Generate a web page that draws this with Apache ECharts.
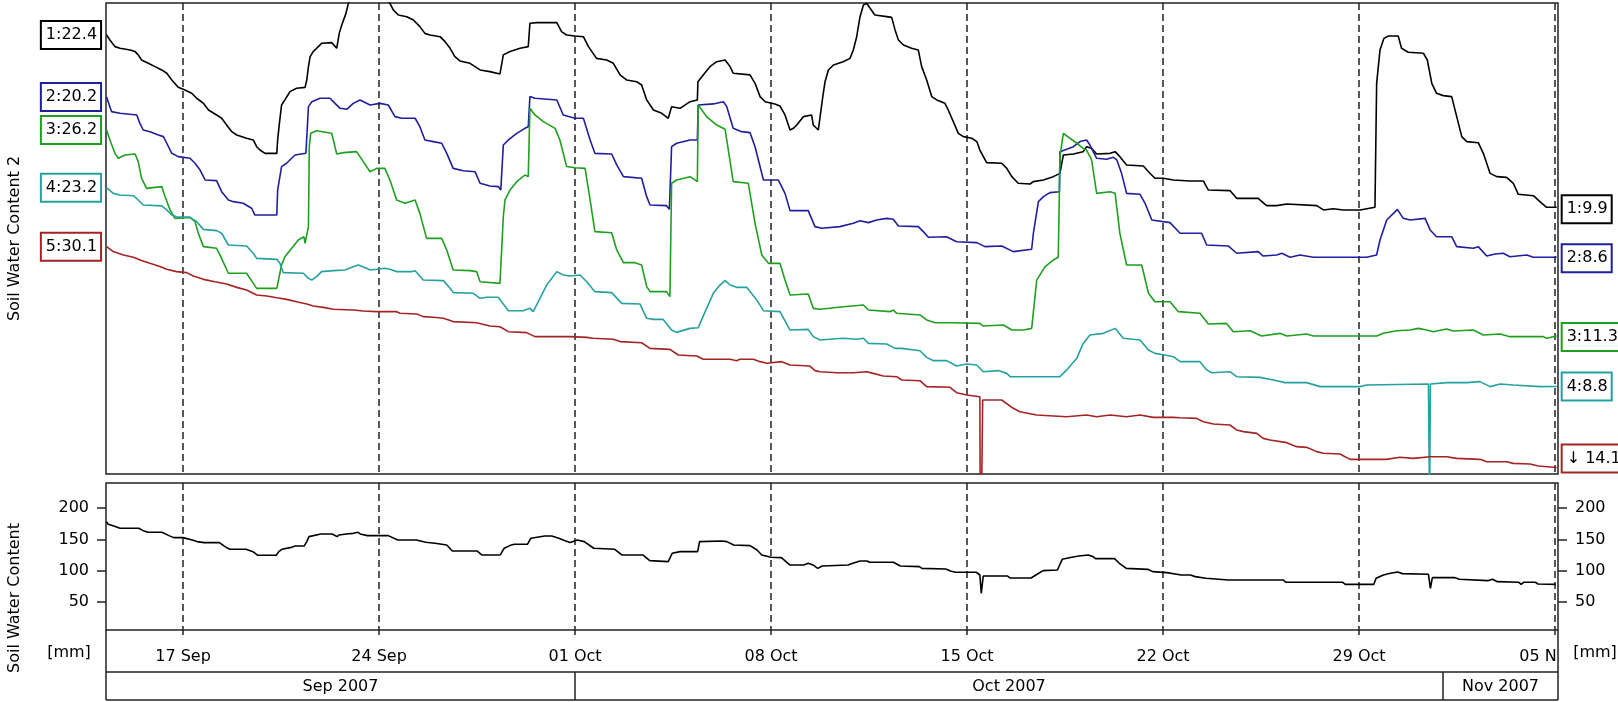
<!DOCTYPE html>
<html><head><meta charset="utf-8">
<script src="https://cdn.jsdelivr.net/npm/echarts@6/dist/echarts.min.js"></script>
<style>html,body{margin:0;padding:0;background:#fff}#c{width:1618px;height:702px}</style>
</head><body><div id="c"></div>
<script>
// ---- time base (days after 14 Sep 2007 00:00 UTC) ----
const DAY = 86400000;
const START = Date.UTC(2007, 8, 14);
const X_MIN_DAY = 0.25, X_MAX_DAY = 52.107;
const tickDays = [3, 10, 17, 24, 31, 38, 45, 52];
const tickLabels = ['17 Sep', '24 Sep', '01 Oct', '08 Oct', '15 Oct', '22 Oct', '29 Oct', '05 N'];
const monthLabels = ['Sep 2007', 'Oct 2007', 'Nov 2007'];
const monthStartDays = [-13, 17, 48, 78];
const lowerTicks = [50, 100, 150, 200];
const unitLabel = '[mm]';
const upperTitle = 'Soil Water Content 2';
const lowerTitle = 'Soil Water Content';

// ---- sensor series: [day, value] ----
const sensor1 = [[0.27,22.40],[0.39,22.04],[0.57,21.56],[0.75,21.44],[1.11,21.32],[1.29,21.20],[1.40,20.96],[1.52,20.59],[1.76,20.35],[2.00,20.11],[2.24,19.87],[2.42,19.63],[2.60,19.14],[2.83,18.61],[3.07,18.42],[3.31,18.18],[3.49,17.82],[3.73,17.45],[3.91,16.97],[4.20,16.61],[4.38,16.37],[4.56,15.88],[4.74,15.40],[4.92,15.16],[5.27,14.92],[5.51,14.80],[5.63,14.31],[5.75,14.07],[5.93,13.83],[6.35,13.83],[6.38,14.80],[6.43,15.76],[6.52,17.33],[6.64,17.70],[6.82,18.30],[7.06,18.54],[7.36,18.61],[7.42,19.14],[7.48,20.11],[7.54,20.83],[7.65,21.20],[7.95,21.80],[8.31,21.85],[8.49,21.44],[8.58,22.52],[8.67,23.13],[8.82,23.97],[8.90,24.65],[9.08,25.66],[9.56,25.90],[10.15,25.42],[10.39,24.70],[10.51,24.22],[10.69,23.85],[10.99,23.73],[11.23,23.49],[11.46,23.01],[11.64,22.52],[11.82,22.40],[12.18,22.28],[12.36,21.92],[12.54,21.44],[12.71,20.83],[12.89,20.52],[13.25,20.35],[13.61,19.87],[13.96,19.75],[14.32,19.58],[14.44,20.96],[14.68,21.20],[15.04,21.44],[15.33,21.56],[15.39,23.25],[15.63,23.30],[16.35,23.30],[16.52,22.65],[16.70,22.40],[17.00,22.33],[17.30,22.28],[17.48,21.56],[17.77,20.71],[18.13,20.59],[18.37,20.35],[18.61,19.51],[18.85,19.14],[19.20,19.02],[19.38,18.78],[19.56,17.70],[19.80,16.97],[20.10,16.73],[20.33,16.37],[20.45,17.21],[20.75,17.09],[21.11,17.57],[21.37,17.70],[21.39,19.02],[21.58,19.51],[21.82,20.11],[22.06,20.47],[22.36,20.59],[22.54,20.11],[22.65,19.63],[23.25,19.51],[23.43,18.90],[23.61,17.94],[23.79,17.57],[24.14,17.41],[24.32,17.26],[24.50,16.61],[24.68,15.52],[24.80,15.64],[24.92,15.88],[25.16,16.49],[25.45,16.61],[25.51,15.88],[25.69,15.52],[25.85,17.94],[25.93,19.02],[26.05,19.87],[26.23,20.23],[26.58,20.47],[26.82,20.71],[26.94,21.32],[27.06,22.28],[27.18,23.73],[27.30,24.58],[27.42,24.70],[27.54,24.34],[27.71,23.85],[28.13,23.73],[28.31,23.68],[28.43,22.77],[28.55,22.04],[28.73,21.68],[29.02,21.44],[29.26,21.32],[29.38,20.11],[29.56,19.14],[29.74,17.94],[29.92,17.70],[30.21,17.45],[30.33,16.97],[30.51,16.13],[30.69,15.28],[30.87,15.04],[31.17,14.92],[31.35,14.68],[31.46,14.07],[31.70,13.16],[32.24,13.11],[32.42,12.74],[32.60,12.14],[32.83,11.66],[33.25,11.61],[33.37,11.78],[33.73,11.90],[34.08,12.14],[34.32,12.38],[34.44,13.71],[34.80,13.78],[35.15,13.95],[35.27,14.31],[35.45,14.19],[35.63,13.78],[36.11,13.83],[36.29,13.95],[36.46,13.59],[36.70,12.99],[37.30,12.91],[37.48,12.50],[37.71,12.02],[38.01,12.02],[38.37,11.90],[38.96,11.83],[39.44,11.83],[39.62,11.17],[40.39,11.13],[40.63,10.57],[41.40,10.57],[41.70,10.04],[42.06,10.04],[42.42,10.16],[43.49,10.04],[43.73,9.73],[44.08,9.82],[44.44,9.73],[45.04,9.73],[45.57,9.92],[45.63,18.90],[45.75,21.32],[45.89,22.16],[46.05,22.33],[46.40,22.33],[46.52,21.44],[46.76,21.15],[47.30,21.08],[47.44,20.59],[47.60,18.90],[47.77,18.18],[48.01,18.01],[48.31,17.94],[48.49,16.49],[48.67,15.04],[48.85,14.68],[49.26,14.60],[49.44,13.83],[49.68,12.38],[49.92,12.14],[50.27,12.09],[50.51,11.66],[50.69,10.86],[51.23,10.76],[51.46,10.33],[51.70,9.92],[52.06,9.92]];
const sensor2 = [[0.27,20.20],[0.45,19.14],[0.75,19.02],[1.35,18.90],[1.46,18.29],[1.58,17.81],[1.82,17.69],[2.12,17.45],[2.30,17.33],[2.42,16.85],[2.60,16.12],[2.83,15.88],[3.25,15.76],[3.43,15.40],[3.61,14.91],[3.79,14.19],[4.20,14.14],[4.38,13.34],[4.62,12.74],[4.80,12.62],[5.15,12.50],[5.45,12.14],[5.57,11.65],[6.35,11.65],[6.38,13.46],[6.52,15.16],[6.70,15.40],[7.00,16.00],[7.39,16.12],[7.48,19.50],[7.60,19.86],[7.89,20.11],[8.25,20.11],[8.43,19.74],[8.61,19.38],[8.85,19.31],[9.08,19.74],[9.32,19.98],[9.68,19.62],[10.04,19.74],[10.33,19.62],[10.57,18.78],[10.81,18.66],[11.29,18.66],[11.46,18.05],[11.64,17.09],[11.94,16.97],[12.24,16.85],[12.42,16.12],[12.65,15.03],[13.01,14.86],[13.43,14.79],[13.61,13.95],[13.96,13.75],[14.26,13.71],[14.35,13.46],[14.44,16.72],[14.62,17.09],[14.92,17.57],[15.21,17.93],[15.33,18.05],[15.39,20.23],[15.57,20.11],[16.35,19.98],[16.58,18.90],[17.00,18.66],[17.30,18.66],[17.54,17.09],[17.71,16.12],[18.31,16.07],[18.49,15.28],[18.73,14.43],[19.38,14.31],[19.56,12.98],[19.68,12.38],[20.27,12.33],[20.37,12.06],[20.45,16.60],[20.63,16.85],[21.11,17.09],[21.37,17.09],[21.40,19.62],[21.94,19.70],[22.30,19.86],[22.42,19.50],[22.65,17.93],[22.95,17.69],[23.25,17.62],[23.43,16.60],[23.73,14.19],[24.26,14.19],[24.50,13.22],[24.68,11.97],[25.33,11.97],[25.57,10.81],[25.81,10.69],[26.46,10.81],[26.94,11.05],[27.18,11.24],[27.48,11.10],[27.77,11.29],[28.13,11.41],[28.37,11.34],[28.55,10.86],[29.26,10.81],[29.44,10.45],[29.62,10.04],[30.27,10.08],[30.63,9.72],[31.35,9.65],[31.64,9.36],[32.24,9.41],[32.65,9.00],[33.31,9.17],[33.37,10.33],[33.55,12.62],[33.73,12.98],[33.96,13.27],[34.30,13.34],[34.32,16.24],[34.80,16.60],[35.04,16.97],[35.27,17.09],[35.39,16.72],[35.63,15.76],[35.99,15.69],[36.23,15.83],[36.35,15.64],[36.52,14.67],[36.70,13.22],[37.18,13.15],[37.36,12.50],[37.60,11.29],[38.25,11.10],[38.61,10.33],[39.38,10.33],[39.56,9.48],[40.33,9.41],[40.63,8.88],[41.40,9.00],[41.58,8.68],[42.06,8.76],[42.24,8.88],[42.54,8.59],[42.89,8.76],[43.37,8.59],[45.27,8.59],[45.63,8.76],[45.75,9.84],[45.99,11.29],[46.23,11.77],[46.37,12.06],[46.58,11.41],[46.82,11.29],[47.36,11.41],[47.54,10.57],[47.77,10.08],[48.31,10.08],[48.49,9.36],[49.08,9.24],[49.26,9.36],[49.56,8.68],[49.86,8.83],[50.15,8.88],[50.39,8.63],[50.99,8.76],[51.23,8.59],[52.06,8.59]];
const sensor3 = [[0.27,26.20],[0.39,25.48],[0.57,24.51],[0.69,24.15],[0.93,24.39],[1.29,24.46],[1.40,23.91],[1.52,22.70],[1.70,21.97],[2.24,22.10],[2.36,21.37],[2.54,20.41],[2.71,19.80],[3.25,19.87],[3.43,19.56],[3.55,18.71],[3.73,17.75],[4.20,17.63],[4.32,17.15],[4.62,15.82],[5.27,15.82],[5.63,14.73],[6.35,14.73],[6.52,16.42],[6.64,17.02],[6.88,17.63],[7.12,18.23],[7.32,18.47],[7.36,17.99],[7.48,19.20],[7.51,24.99],[7.56,25.96],[7.77,26.15],[8.31,25.96],[8.49,24.46],[8.73,24.56],[9.20,24.63],[9.44,23.91],[9.68,23.18],[9.92,23.42],[10.21,23.42],[10.39,22.58],[10.63,21.13],[10.93,20.89],[11.29,21.13],[11.46,20.16],[11.70,18.35],[12.24,18.35],[12.42,17.51],[12.65,16.06],[13.25,16.01],[13.49,15.94],[13.61,15.21],[14.32,15.09],[14.44,19.92],[14.50,21.13],[14.68,21.85],[14.92,22.46],[15.21,22.94],[15.33,22.82],[15.39,27.77],[15.57,27.29],[15.87,26.81],[16.29,26.32],[16.46,25.48],[16.70,23.55],[17.00,23.47],[17.36,23.42],[17.54,21.13],[17.71,18.84],[18.31,18.76],[18.49,17.51],[18.73,16.59],[19.14,16.59],[19.38,16.42],[19.56,14.85],[19.68,14.49],[20.27,14.49],[20.39,14.13],[20.45,22.34],[20.63,22.58],[21.11,22.82],[21.37,22.46],[21.40,28.01],[21.70,27.17],[22.06,26.56],[22.36,26.25],[22.42,25.48],[22.65,22.46],[23.19,22.34],[23.43,19.44],[23.67,17.15],[23.91,16.54],[24.32,16.54],[24.50,15.33],[24.68,14.25],[25.33,14.32],[25.51,13.28],[25.75,13.21],[26.58,13.40],[27.30,13.52],[27.48,13.16],[28.25,13.04],[28.37,13.16],[28.49,12.92],[29.32,12.80],[29.56,12.44],[29.86,12.24],[30.45,12.24],[31.46,12.19],[31.58,12.00],[32.30,12.07],[32.60,11.71],[33.01,11.71],[33.31,11.83],[33.49,15.33],[33.79,16.30],[34.08,16.78],[34.26,16.98],[34.32,24.27],[34.44,25.96],[34.92,25.24],[35.15,24.87],[35.27,24.75],[35.45,24.03],[35.63,21.61],[36.11,21.73],[36.29,21.61],[36.46,18.71],[36.70,16.42],[37.24,16.42],[37.48,14.37],[37.71,13.76],[38.25,13.76],[38.55,13.04],[39.32,12.92],[39.62,12.15],[40.27,12.19],[40.51,11.59],[41.11,11.66],[41.52,11.28],[42.18,11.47],[42.42,11.28],[43.13,11.42],[43.37,11.28],[45.63,11.28],[45.87,11.47],[46.35,11.66],[46.82,11.71],[47.12,11.83],[47.42,11.71],[47.65,11.59],[48.13,11.78],[48.37,11.64],[49.08,11.71],[49.44,11.35],[50.04,11.42],[50.39,11.23],[51.58,11.23],[51.70,11.11],[52.06,11.28]];
const sensor4 = [[0.27,23.20],[0.51,22.79],[0.75,22.67],[1.23,22.62],[1.40,22.31],[1.58,21.95],[2.24,21.88],[2.42,21.59],[2.60,21.22],[2.77,21.10],[3.25,21.05],[3.49,20.74],[3.73,20.18],[4.20,20.09],[4.38,19.90],[4.62,19.05],[5.27,18.98],[5.51,18.45],[5.63,18.08],[6.35,18.01],[6.46,17.72],[6.58,17.05],[7.30,17.00],[7.48,16.63],[7.60,16.51],[7.77,16.76],[7.95,17.12],[8.37,17.19],[8.79,17.24],[9.08,17.48],[9.26,17.60],[9.56,17.36],[9.68,17.24],[9.92,17.29],[10.21,17.36],[10.39,17.29],[10.63,17.12],[11.17,17.12],[11.29,17.19],[11.58,16.51],[12.30,16.47],[12.54,15.91],[12.65,15.60],[13.37,15.55],[13.61,15.19],[13.85,15.26],[14.26,15.26],[14.38,14.94],[14.62,14.29],[15.15,14.29],[15.39,14.46],[15.51,14.22],[15.81,15.43],[15.99,16.15],[16.35,17.12],[16.58,16.88],[16.82,16.80],[17.18,16.88],[17.42,16.39],[17.71,15.67],[18.31,15.60],[18.67,14.82],[19.32,14.78],[19.56,13.74],[19.80,13.66],[20.15,13.66],[20.45,12.89],[20.63,12.72],[21.11,13.01],[21.40,13.06],[21.70,14.46],[21.94,15.55],[22.12,16.03],[22.36,16.47],[22.54,16.15],[22.77,15.98],[23.13,15.98],[23.49,15.07],[23.73,14.29],[24.32,14.22],[24.68,12.89],[25.33,12.94],[25.51,12.41],[25.75,12.17],[26.58,12.29],[27.06,12.22],[27.30,12.29],[27.48,11.92],[28.13,11.88],[28.43,11.56],[28.67,11.56],[29.32,11.39],[29.56,10.91],[29.80,10.67],[30.27,10.67],[30.63,10.28],[30.99,10.43],[31.35,10.36],[31.58,9.87],[32.12,9.95],[32.42,9.75],[32.54,9.51],[34.32,9.51],[34.56,10.00],[34.92,10.84],[35.15,11.92],[35.39,12.53],[35.87,12.65],[36.29,13.01],[36.58,12.29],[37.18,12.17],[37.48,11.44],[37.71,11.20],[38.07,11.08],[38.37,10.96],[38.61,10.60],[39.32,10.60],[39.56,10.00],[39.74,9.80],[40.39,9.87],[40.63,9.51],[41.46,9.46],[41.94,9.27],[42.36,9.08],[43.13,9.08],[43.61,8.79],[45.04,8.79],[45.27,8.91],[47.48,8.98],[47.52,0.00],[47.55,8.98],[48.13,9.08],[48.85,9.08],[49.32,9.15],[49.68,8.79],[50.04,8.98],[50.51,8.91],[51.46,8.79],[52.06,8.80]];
const sensor5 = [[0.27,30.10],[0.51,29.74],[0.87,29.50],[1.23,29.33],[1.52,29.09],[1.82,28.89],[2.12,28.70],[2.42,28.46],[2.77,28.29],[3.13,28.22],[3.37,27.97],[3.73,27.73],[4.14,27.56],[4.56,27.39],[4.92,27.15],[5.27,26.96],[5.63,26.60],[5.99,26.53],[6.35,26.40],[6.70,26.28],[7.06,26.11],[7.42,25.95],[7.65,25.80],[8.01,25.70],[8.37,25.56],[9.08,25.51],[9.44,25.44],[9.92,25.39],[10.63,25.39],[10.75,25.27],[11.35,25.22],[11.58,25.03],[11.94,24.98],[12.30,24.91],[12.65,24.67],[13.49,24.59],[13.96,24.35],[14.32,24.30],[14.62,23.94],[15.27,23.87],[15.57,23.58],[16.82,23.58],[17.42,23.53],[17.65,23.46],[18.37,23.39],[18.61,23.22],[19.38,23.14],[19.68,22.73],[20.39,22.66],[20.69,22.25],[21.35,22.18],[21.58,21.94],[22.54,21.94],[22.77,21.84],[22.89,21.94],[23.37,21.94],[23.61,21.77],[23.85,21.65],[24.38,21.77],[24.68,21.53],[25.39,21.45],[25.57,21.12],[25.75,21.04],[26.35,20.97],[26.94,20.97],[27.42,21.04],[27.65,20.92],[28.01,20.73],[28.49,20.68],[28.67,20.44],[29.32,20.39],[29.56,19.96],[30.39,19.91],[30.63,19.52],[30.99,19.35],[31.46,19.23],[31.48,5.00],[31.50,5.00],[31.52,5.00],[31.54,5.00],[31.56,18.99],[32.24,18.99],[32.65,18.39],[32.89,18.14],[33.49,17.90],[34.56,17.78],[35.27,17.90],[35.63,17.78],[36.11,17.90],[36.70,17.78],[37.18,17.90],[37.65,17.73],[38.37,17.73],[38.61,17.70],[39.20,17.66],[39.44,17.42],[39.80,17.25],[40.39,17.18],[40.63,16.82],[40.87,16.70],[41.35,16.57],[41.58,16.21],[41.82,16.09],[42.42,15.90],[42.77,15.61],[43.13,15.56],[43.49,15.25],[43.73,15.13],[44.32,15.08],[44.68,14.69],[45.99,14.69],[46.46,14.84],[46.94,14.76],[47.54,14.88],[48.13,14.88],[48.49,14.76],[49.32,14.69],[49.56,14.52],[50.27,14.52],[50.51,14.40],[51.11,14.35],[51.40,14.21],[52.06,14.10]];

// ---- total soil water content [mm] ----
const swcTotal = [[0.26,178.5],[0.33,174.2],[0.58,170.5],[0.75,167.8],[1.42,167.8],[1.58,164.0],[1.75,161.4],[2.25,161.4],[2.50,156.0],[2.67,152.8],[3.00,152.8],[3.33,149.0],[3.50,146.4],[3.75,144.8],[4.30,144.8],[4.50,138.3],[4.67,134.1],[5.25,134.1],[5.50,130.3],[5.67,124.4],[6.33,124.4],[6.42,130.3],[6.53,134.1],[6.83,136.7],[7.00,139.4],[7.33,139.4],[7.42,146.4],[7.50,154.4],[7.92,158.7],[8.33,158.7],[8.50,154.4],[8.58,157.1],[8.83,158.7],[9.08,159.7],[9.25,161.4],[9.33,158.7],[9.58,156.0],[10.33,156.0],[10.67,149.0],[11.33,149.0],[11.67,145.3],[12.00,143.7],[12.42,141.0],[12.62,131.4],[13.50,131.4],[13.67,125.0],[14.33,125.0],[14.47,135.7],[14.67,140.0],[14.83,142.1],[15.30,142.1],[15.42,151.7],[15.92,155.5],[16.17,155.5],[16.42,151.7],[16.67,147.4],[16.83,144.8],[17.08,149.0],[17.33,146.4],[17.67,135.7],[18.42,134.1],[18.67,125.0],[19.42,125.0],[19.67,115.9],[20.33,114.3],[20.47,127.6],[20.75,130.3],[21.38,130.3],[21.45,146.4],[22.25,147.4],[22.42,146.4],[22.67,141.0],[23.25,139.9],[23.50,133.0],[23.67,125.0],[24.00,121.2],[24.37,120.7],[24.67,108.9],[25.17,108.9],[25.33,111.6],[25.50,108.9],[25.67,103.5],[25.83,107.3],[26.75,108.9],[26.92,111.6],[27.18,115.3],[27.43,115.3],[27.52,113.2],[28.37,113.2],[28.62,107.3],[29.30,106.2],[29.39,103.5],[30.24,102.5],[30.41,99.3],[30.58,97.1],[31.34,97.1],[31.46,92.8],[31.51,63.4],[31.58,91.2],[32.44,91.2],[32.53,88.0],[33.29,88.0],[33.46,92.8],[33.72,99.8],[34.23,100.9],[34.40,118.0],[34.74,121.2],[34.99,123.3],[35.33,125.0],[35.50,122.3],[35.59,119.1],[36.27,119.1],[36.44,111.6],[36.69,103.5],[37.46,101.9],[37.63,98.2],[38.14,96.6],[38.65,92.8],[38.98,92.8],[39.15,90.2],[39.53,87.5],[40.34,84.8],[42.30,84.8],[42.38,81.1],[44.42,81.1],[44.51,77.8],[45.53,77.8],[45.61,87.5],[45.87,92.8],[46.12,95.5],[46.38,97.7],[46.55,95.0],[47.48,93.9],[47.55,71.4],[47.62,88.6],[48.41,88.6],[48.58,85.9],[49.60,83.7],[49.77,85.9],[49.94,82.1],[50.71,81.1],[50.79,77.8],[50.88,81.1],[51.30,81.1],[51.39,78.4],[52.03,77.8]];

const sensorData = [sensor1, sensor2, sensor3, sensor4, sensor5];
const sensorColors = ['#000000', '#1f1f9c', '#1f9f1f', '#27a0a0', '#a32424'];
const sensorYMin = [-9.40, -7.11, 1.28, 2.46, 13.63];
const sensorYMax = [24.72, 27.01, 35.40, 36.58, 47.75];
const endPrefix = ['', '', '', '', '\u2193 '];
const endOffsetY = [2, 1, 1, 0, -9];
const lowerYMin = 4.5, lowerYMax = 240.5;

// ---- chart ----
const FONT = 'DejaVu Sans';
const AXIS_COLOR = '#222';
const toTime = d => START + d * DAY;
const tickTimes = tickDays.map(toTime);

const chart = echarts.init(document.getElementById('c'), null, {renderer: 'canvas', width: 1618, height: 702});

function boxStyle(c) {
  return {color: '#000', fontFamily: FONT, fontSize: 16, lineHeight: 19,
    backgroundColor: '#fff', borderColor: c, borderWidth: 2, padding: [4, 3, 3, 4]};
}

function dateLabel(val) {
  const d = Math.round((val - START) / DAY);
  const k = tickDays.indexOf(d);
  if (k < 0) return '';
  if (k === tickDays.length - 1) return '{c|' + tickLabels[k] + '}';
  return tickLabels[k];
}

const xBase = {
  type: 'value', min: toTime(X_MIN_DAY), max: toTime(X_MAX_DAY),
  axisLine: {show: false},
  splitLine: {show: true, lineStyle: {color: AXIS_COLOR, width: 1.5, type: [7, 4]}}
};

const yAxes = sensorData.map((_, i) => ({
  type: 'value', gridIndex: 0, min: sensorYMin[i], max: sensorYMax[i], show: false
}));
const lowerY = pos => ({
  type: 'value', gridIndex: 1, position: pos, min: lowerYMin, max: lowerYMax,
  axisLine: {show: false}, splitLine: {show: false},
  axisTick: {show: true, length: 9, customValues: lowerTicks, lineStyle: {color: AXIS_COLOR, width: 1.5}},
  axisLabel: {customValues: lowerTicks, margin: 17, color: '#000', fontFamily: FONT, fontSize: 16}
});
yAxes.push(lowerY('left'), lowerY('right'));

const series = sensorData.map((arr, i) => {
  const c = sensorColors[i];
  const last = arr[arr.length - 1][1];
  return {
    type: 'line', name: 'Sensor ' + (i + 1), xAxisIndex: 0, yAxisIndex: i,
    symbol: 'none', showSymbol: true, clip: true, silent: true,
    lineStyle: {color: c, width: 1.6}, itemStyle: {color: c},
    emphasis: {disabled: true},
    data: arr.map((p, j) => j === 0 ? {
      value: [toTime(p[0]), p[1]], symbol: 'circle', symbolSize: 1,
      label: Object.assign({show: true, position: 'left', distance: 6,
        formatter: (i + 1) + ':' + p[1].toFixed(1)}, boxStyle(c))
    } : [toTime(p[0]), p[1]]),
    endLabel: Object.assign({show: true, distance: 6, offset: [0, endOffsetY[i]],
      formatter: () => endPrefix[i] ? endPrefix[i] + last.toFixed(1) : (i + 1) + ':' + last.toFixed(1)}, boxStyle(c))
  };
});
series.push({
  type: 'line', name: 'Soil Water Content', xAxisIndex: 1, yAxisIndex: 5,
  symbol: 'none', showSymbol: false, clip: true, silent: true,
  lineStyle: {color: '#000', width: 1.6}, emphasis: {disabled: true},
  data: swcTotal.map(p => [toTime(p[0]), p[1]])
});

chart.setOption({
  animation: false,
  backgroundColor: '#fff',
  grid: [
    {left: 106, top: 3, width: 1452, height: 471, show: true, borderColor: AXIS_COLOR, borderWidth: 1.5, backgroundColor: '#fff'},
    {left: 106, top: 483, width: 1452, height: 147, show: true, borderColor: AXIS_COLOR, borderWidth: 1.5, backgroundColor: '#fff'}
  ],
  xAxis: [
    Object.assign({}, xBase, {gridIndex: 0,
      axisTick: {show: false, customValues: tickTimes},
      axisLabel: {show: false, customValues: tickTimes}}),
    Object.assign({}, xBase, {gridIndex: 1,
      axisTick: {show: true, length: 5, customValues: tickTimes, lineStyle: {color: AXIS_COLOR, width: 1.5}},
      axisLabel: {show: true, customValues: tickTimes, margin: 19, color: '#000', fontFamily: FONT, fontSize: 16,
        formatter: dateLabel,
        rich: {c: {fontFamily: FONT, fontSize: 16, color: '#000', padding: [0, 34, 0, 0]}}}})
  ],
  yAxis: yAxes,
  series: series
});

// ---- frame rows for date and month labels, titles ----
const xL = chart.convertToPixel({xAxisIndex: 1}, toTime(X_MIN_DAY));
const xR = chart.convertToPixel({xAxisIndex: 1}, toTime(X_MAX_DAY));
const yB = chart.convertToPixel({yAxisIndex: 5}, lowerYMin);
const yT0 = chart.convertToPixel({yAxisIndex: 0}, sensorYMax[0]);
const yB0 = chart.convertToPixel({yAxisIndex: 0}, sensorYMin[0]);
const row1 = yB + 42, row2 = yB + 70;
const lineStyle = {stroke: AXIS_COLOR, lineWidth: 1.5};
const g = [];
const addLine = (x1, y1, x2, y2) => g.push({type: 'line', shape: {x1, y1, x2, y2}, style: lineStyle, silent: true});
addLine(xL, yB, xL, row2);
addLine(xR, yB, xR, row2);
addLine(xL, row1, xR, row1);
addLine(xL, row2, xR, row2);
const txt = (x, y, text, rot) => g.push({type: 'text', x, y, rotation: rot || 0, silent: true,
  style: {text, fill: '#000', font: '16px "' + FONT + '"', align: 'center', verticalAlign: 'middle',
    textAlign: 'center', textVerticalAlign: 'middle'}});
for (let m = 0; m < monthLabels.length; m++) {
  const a = Math.max(xL, chart.convertToPixel({xAxisIndex: 1}, toTime(monthStartDays[m])));
  const b = Math.min(xR, chart.convertToPixel({xAxisIndex: 1}, toTime(monthStartDays[m + 1])));
  if (a > xL + 1) addLine(a, row1, a, row2);
  txt((a + b) / 2, (row1 + row2) / 2 + 1, monthLabels[m]);
}
txt(xL - 37, yB + 23, unitLabel);
txt(xR + 37, yB + 23, unitLabel);
txt(15, (yT0 + yB0) / 2, upperTitle, Math.PI / 2);
txt(15, yB - 32, lowerTitle, Math.PI / 2);
chart.setOption({graphic: g});
</script></body></html>
